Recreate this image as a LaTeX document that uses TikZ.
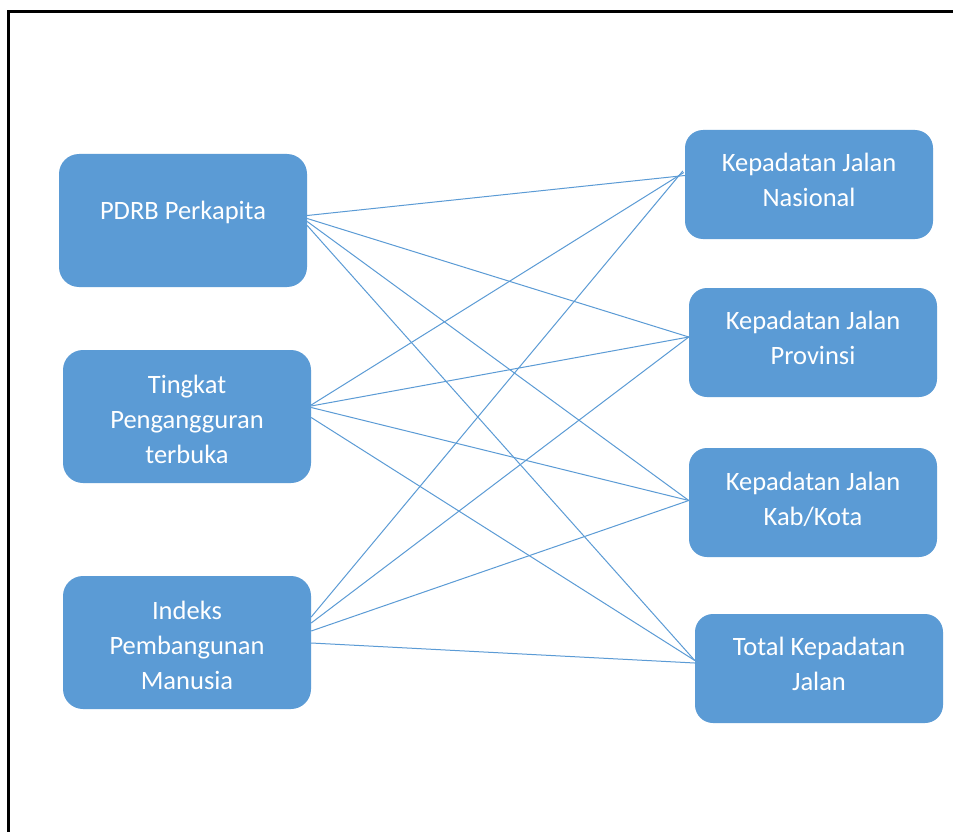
\documentclass[tikz,border=0pt]{standalone}
\usepackage{fontspec}
\setmainfont{Carlito}
\usetikzlibrary{calc}
\definecolor{boxblue}{HTML}{5B9BD5}
\tikzset{
  box/.style={fill=boxblue, draw=none, rounded corners=20pt, inner sep=0pt},
  lbl/.style={text=white, align=center, inner sep=0pt, font=\fontsize{26.5}{35}\selectfont},
  link/.style={draw=boxblue, line width=1pt},
  frame/.style={draw=black, line width=2.6pt}
}
\begin{document}
\begin{tikzpicture}[x=1pt,y=-1pt]
\useasboundingbox (0,0) rectangle (953,832);
\fill[white] (0,0) rectangle (953,832);
\coordinate (fbl) at (8.5,833);
\coordinate (ftl) at (8.5,11.3);
\coordinate (ftr) at (954,11.3);
\draw[frame] (fbl) -- (ftl) -- (ftr);

% left boxes
\node[box, minimum width=248pt, minimum height=133pt] (pdrb) at (183,220.5) {};
\node[box, minimum width=248pt, minimum height=133pt] (tpt) at (187,416.5) {};
\node[box, minimum width=248pt, minimum height=133pt] (ipm) at (187,642.5) {};
% right boxes
\node[box, rounded corners=18pt, minimum width=248pt, minimum height=109pt] (kjn) at (809,184.5) {};
\node[box, rounded corners=18pt, minimum width=248pt, minimum height=109pt] (kjp) at (813,342.5) {};
\node[box, rounded corners=18pt, minimum width=248pt, minimum height=109pt] (kjk) at (813,502.5) {};
\node[box, rounded corners=18pt, minimum width=248pt, minimum height=109pt] (tkj) at (819,668.5) {};

% labels
\node[lbl] (pdrbt) at (183,212) {PDRB Perkapita};
\node[lbl] (tptt) at (187,419) {Tingkat\\Pengangguran\\terbuka};
\node[lbl] (ipmt) at (187,645) {Indeks\\Pembangunan\\Manusia};
\node[lbl] (kjnt) at (809,180) {Kepadatan Jalan\\Nasional};
\node[lbl] (kjpt) at (813,338) {Kepadatan Jalan\\Provinsi};
\node[lbl] (kjkt) at (813,499) {Kepadatan Jalan\\Kab/Kota};
\node[lbl] (tkjt) at (819,664) {Total Kepadatan\\Jalan};

% connectors: PDRB
\draw[link] ($(pdrb.east)+(0,-5)$) -- ($(kjn.west)+(0,-9)$);
\draw[link] ($(pdrb.east)+(0,-2)$) -- ($(kjp.west)+(0,-5.5)$);
\draw[link] ($(pdrb.east)+(0,1)$) -- ($(kjk.west)+(0,-2)$);
\draw[link] ($(pdrb.east)+(0,5)$) -- ($(tkj.west)+(0,-8)$);
% connectors: TPT
\draw[link] ($(tpt.east)+(0,-11.5)$) -- ($(kjn.west)+(-1,-12)$);
\draw[link] ($(tpt.east)+(0,-10.5)$) -- ($(kjp.west)+(0,-5.5)$);
\draw[link] ($(tpt.east)+(0,-9)$) -- ($(kjk.west)+(0,-2)$);
\draw[link] ($(tpt.east)+(0,1)$) -- ($(tkj.west)+(0,-8)$);
% connectors: IPM
\draw[link] ($(ipm.east)+(0,-25.5)$) -- ($(kjn.west)+(-2,-13.5)$);
\draw[link] ($(ipm.east)+(0,-19.5)$) -- ($(kjp.west)+(0,-5.5)$);
\draw[link] ($(ipm.east)+(0,-11.5)$) -- ($(kjk.west)+(0,-2)$);
\draw[link] ($(ipm.east)+(0,0.5)$) -- ($(tkj.west)+(0,-5.5)$);
\end{tikzpicture}
\end{document}
